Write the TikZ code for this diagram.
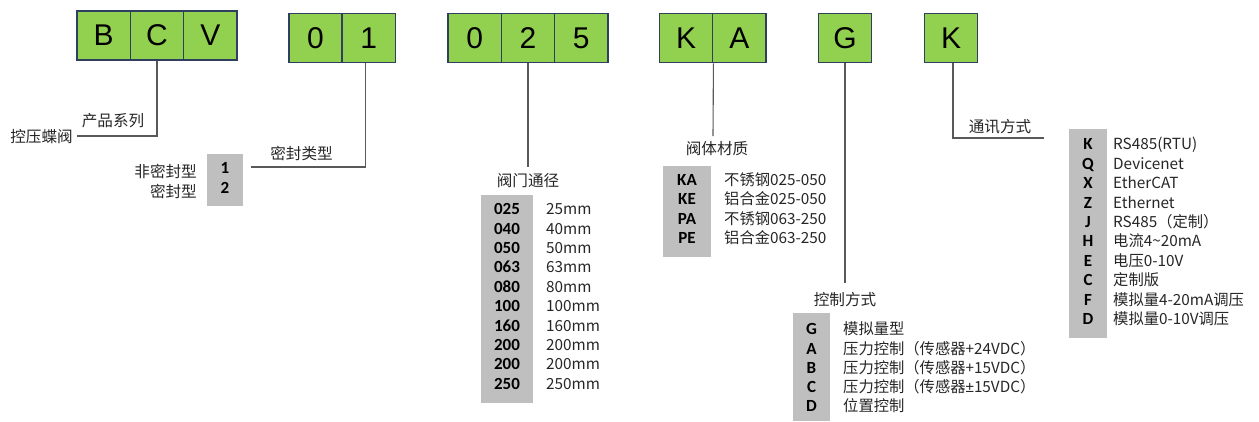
\documentclass[tikz,border=0pt]{standalone}
\usepackage{fontspec}
\setmainfont{Noto Sans CJK SC}
\newfontfamily\codefont{Carlito}
\newfontfamily\bigfont{Liberation Sans}
\definecolor{cgreen}{HTML}{92D050}
\definecolor{cborder}{HTML}{2F3F60}
\definecolor{cgray}{HTML}{BFBFBF}
\definecolor{cline}{HTML}{595959}
\tikzset{
  cell/.style={draw=cborder, line width=1.6pt, fill=cgreen, minimum width=53.3pt, minimum height=49pt, inner sep=0pt, font=\bigfont\fontsize{30}{30}\selectfont},
  graybox/.style={fill=cgray, draw=none, inner sep=0pt, anchor=north west},
  lbl/.style={font=\fontsize{15.6}{18}\selectfont, inner sep=0pt, text=black!85},
  code/.style={font=\codefont\bfseries\fontsize{17}{18}\selectfont, inner sep=0pt, anchor=mid, text=black},
  desc/.style={font=\fontsize{15.3}{18}\selectfont, inner sep=0pt, anchor=mid west, text=black!85},
  conn/.style={draw=cline, line width=1.1pt},
}
\begin{document}
\begin{tikzpicture}[x=1pt,y=-1pt]
\useasboundingbox (0,0) rectangle (1259,421);

% ---- green code cells
\node[cell] (cB) at (103.7,35.5) {B};
\node[cell] (cC) at (157,35.5) {C};
\node[cell] (cV) at (210.3,35.5) {V};
\node[cell] (c0) at (315.5,38) {0};
\node[cell] (c1) at (368.8,38) {1};
\node[cell] (d0) at (474.7,38) {0};
\node[cell] (d2) at (528,38) {2};
\node[cell] (d5) at (581.3,38) {5};
\node[cell] (mK) at (686,38) {K};
\node[cell] (mA) at (739.3,38) {A};
\node[cell] (gG) at (845,38) {G};
\node[cell] (kK) at (951,38) {K};

% ---- product series
\coordinate (bEnd) at (77,136);
\draw[conn] (cC.south) |- (bEnd);
\node[lbl] (bTitle) at (113,121) {产品系列};
\node[lbl, anchor=east] (bName) at (73,137) {控压蝶阀};

% ---- seal type
\coordinate (oEnd) at (251,167);
\draw[conn] ([xshift=-3.5pt]c1.south) |- (oEnd);
\node[lbl] (oTitle) at (301.5,153) {密封类型};
\node[graybox, minimum width=36pt, minimum height=52pt] (sealbox) at (207,154) {};
\node[code] (o1c) at (225,171) {1};
\node[code] (o2c) at (225,191) {2};
\node[lbl, anchor=east] (o1t) at (197,171) {非密封型};
\node[lbl, anchor=east] (o2t) at (197,191) {密封型};

% ---- valve size
\coordinate (sEnd) at (528,167);
\draw[conn] (d2.south) -- (sEnd);
\node[lbl] (sTitle) at (528,181) {阀门通径};
\node[graybox, minimum width=52pt, minimum height=208pt] (sizebox) at (481,195) {};
\foreach \c/\t [count=\i] in {025/25mm,040/40mm,050/50mm,063/63mm,080/80mm,100/100mm,160/160mm,200/200mm,200/200mm,250/250mm}{
  \node[code] (s\i c) at (507,{212+19.4*(\i-1)}) {\c};
  \node[desc] (s\i t) at (546,{212+19.4*(\i-1)}) {\t};
}

% ---- body material
\coordinate (mEnd) at (713,136);
\draw[conn] (mK.south east) -- (mEnd);
\node[lbl] (mTitle) at (717,149) {阀体材质};
\node[graybox, minimum width=48pt, minimum height=91pt] (matbox) at (663,166) {};
\foreach \c/\t [count=\i] in {KA/不锈钢025-050,KE/铝合金025-050,PA/不锈钢063-250,PE/铝合金063-250}{
  \node[code] (m\i c) at (687,{183+19.2*(\i-1)}) {\c};
  \node[desc] (m\i t) at (724,{183+19.2*(\i-1)}) {\t};
}

% ---- control mode
\coordinate (gEnd) at (845,283);
\draw[conn] (gG.south) -- (gEnd);
\node[lbl] (gTitle) at (845,300) {控制方式};
\node[graybox, minimum width=37pt, minimum height=108pt] (ctlbox) at (793,313) {};
\foreach \c/\t [count=\i] in {G/模拟量型,A/压力控制（传感器+24VDC）,B/压力控制（传感器+15VDC）,C/压力控制（传感器{\bigfont ±}15VDC）,D/位置控制}{
  \node[code] (g\i c) at (811.5,{332+19.3*(\i-1)}) {\c};
  \node[desc] (g\i t) at (843,{332+19.3*(\i-1)}) {\t};
}

% ---- communication
\coordinate (kEnd) at (1044,138);
\draw[conn] ([xshift=2pt]kK.south) |- (kEnd);
\node[lbl] (kTitle) at (1000,127) {通讯方式};
\node[graybox, minimum width=38pt, minimum height=209pt] (combox) at (1069,129) {};
\foreach \c/\t [count=\i] in {K/RS485(RTU),Q/Devicenet,X/EtherCAT,Z/Ethernet,J/RS485（定制）,H/电流4\textasciitilde20mA,E/电压0-10V,C/定制版,F/模拟量4-20mA调压,D/模拟量0-10V调压}{
  \node[code] (k\i c) at (1088,{147+19.44*(\i-1)}) {\c};
  \node[desc] (k\i t) at (1113,{147+19.44*(\i-1)}) {\t};
}
\end{tikzpicture}
\end{document}
